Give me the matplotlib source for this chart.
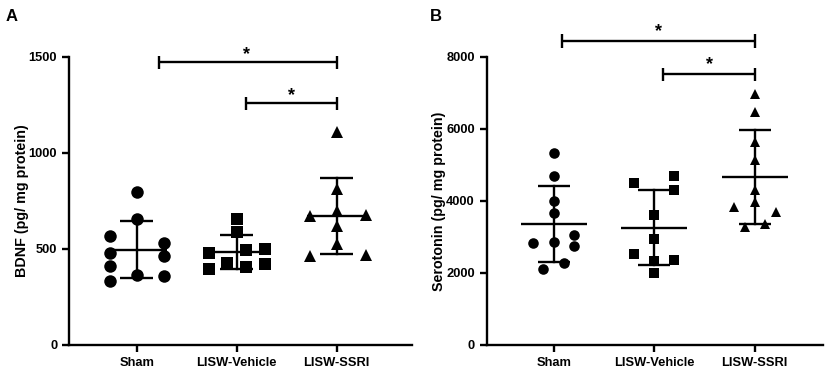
import numpy as np
import matplotlib
matplotlib.use("Agg")
import matplotlib.pyplot as plt

plt.rcParams['font.family'] = ['Liberation Sans', 'DejaVu Sans']
plt.rcParams['font.weight'] = 'bold'

# ---------------- data ----------------
categories = ["Sham", "LISW-Vehicle", "LISW-SSRI"]

bdnf_sham = [797, 656, 364, 569, 477, 411, 335, 532, 463, 359]
bdnf_vehicle = [656, 586, 477, 394, 425, 494, 407, 498, 420]
bdnf_ssri = [1106, 811, 699, 621, 525, 671, 676, 463, 468]

sero_sham = [5330, 4681, 4004, 3662, 2846, 2828, 3040, 2734, 2104, 2272]
sero_vehicle = [4496, 4681, 4310, 3615, 2939, 2530, 2317, 2364, 1994]
sero_ssri = [6952, 6460, 5626, 5125, 4310, 3967, 3829, 3690, 3273, 3365]

bdnf_ticks = [0, 500, 1000, 1500]
sero_ticks = [0, 2000, 4000, 6000, 8000]

# ---------------- layout ----------------
bdnf_offsets = [
    [0, 0, 0, -0.27, -0.27, -0.27, -0.27, 0.27, 0.27, 0.27],
    [0, 0, -0.28, -0.28, -0.095, 0.095, 0.095, 0.28, 0.28],
    [0, 0, 0, 0, 0, -0.27, 0.29, -0.27, 0.29],
]
sero_offsets = [
    [0, 0, 0, 0, 0, -0.21, 0.2, 0.2, -0.11, 0.1],
    [-0.2, 0.2, 0.2, 0, 0, -0.2, 0, 0.2, 0],
    [0, 0, 0, 0, 0, 0, -0.21, 0.21, -0.1, 0.1],
]
# significance brackets: (x_start, x_end, y, star_x, star_y)
bdnf_brackets = [(0.22, 2.0, 1471, 1.1, 1510), (1.09, 2.0, 1257, 1.55, 1300)]
sero_brackets = [(0.08, 2.0, 8436, 1.04, 8700), (1.09, 2.0, 7508, 1.55, 7780)]

markers = ['o', 's', '^']

fig = plt.figure(figsize=(8.29, 3.73), dpi=100)
axA = fig.add_axes([0.0832, 0.0751, 0.4134, 0.773])
axB = fig.add_axes([0.587, 0.0751, 0.4057, 0.773])

LW = 1.7


def draw_panel(ax, groups, offsets, ticks, ylim, xlim, ylabel, brackets, msizes,
               mean_hw, cap_hw, tick_h):
    for i, (vals, offs) in enumerate(zip(groups, offsets)):
        vals = np.asarray(vals, float)
        xs = i + np.asarray(offs)
        ax.plot(xs, vals, linestyle='none', marker=markers[i], color='black',
                markersize=msizes[i], markeredgewidth=0, zorder=3)
        m = vals.mean()
        sd = vals.std(ddof=1)
        ax.plot([i - mean_hw, i + mean_hw], [m, m], color='black', lw=LW, zorder=4,
                solid_capstyle='butt')
        ax.plot([i, i], [m - sd, m + sd], color='black', lw=LW, zorder=4)
        for yy in (m - sd, m + sd):
            ax.plot([i - cap_hw, i + cap_hw], [yy, yy], color='black', lw=LW, zorder=4,
                    solid_capstyle='butt')
    for (x0, x1, y, sx, sy) in brackets:
        ax.plot([x0, x1], [y, y], color='black', lw=LW, clip_on=False,
                solid_capstyle='butt')
        for xx in (x0, x1):
            ax.plot([xx, xx], [y - tick_h, y + tick_h], color='black', lw=LW,
                    clip_on=False, solid_capstyle='butt')
        ax.text(sx, sy, '*', ha='center', va='center', fontsize=13,
                fontweight='bold', clip_on=False)

    ax.set_xlim(*xlim)
    ax.set_ylim(*ylim)
    ax.set_yticks(ticks)
    ax.set_xticks(range(len(categories)))
    ax.set_xticklabels(categories)
    for s in ('top', 'right'):
        ax.spines[s].set_visible(False)
    for s in ('left', 'bottom'):
        ax.spines[s].set_linewidth(LW)
    ax.tick_params(axis='both', direction='out', length=5, width=LW,
                   labelsize=9.3)
    ax.tick_params(axis='x', pad=4)
    for lab in ax.get_xticklabels() + ax.get_yticklabels():
        lab.set_fontweight('bold')
    ax.set_ylabel(ylabel, fontsize=10.3, fontweight='bold', labelpad=0)


draw_panel(axA, [bdnf_sham, bdnf_vehicle, bdnf_ssri], bdnf_offsets, bdnf_ticks,
           (0, 1500), (-0.68, 2.75), 'BDNF (pg/ mg protein)', bdnf_brackets,
           [9.0, 8.6, 8.8], 0.3, 0.165, 35)
draw_panel(axB, [sero_sham, sero_vehicle, sero_ssri], sero_offsets, sero_ticks,
           (0, 8000), (-0.67, 2.68), 'Serotonin (pg/ mg protein)', sero_brackets,
           [7.6, 7.5, 7.4], 0.33, 0.16, 190)

fig.text(0.007, 0.975, 'A', fontsize=12, fontweight='bold', va='top', ha='left')
fig.text(0.518, 0.975, 'B', fontsize=12, fontweight='bold', va='top', ha='left')

fig.savefig('out.png', dpi=100)
